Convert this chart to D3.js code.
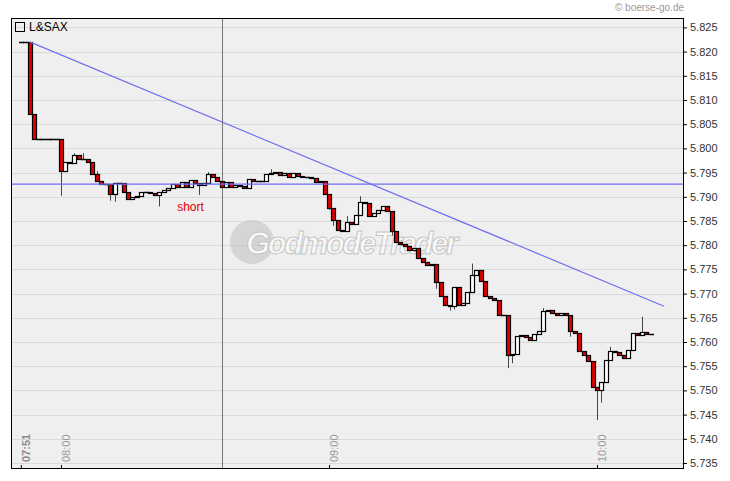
<!DOCTYPE html>
<html><head><meta charset="utf-8">
<script src="https://cdn.jsdelivr.net/npm/d3@7"></script>
<style>body{margin:0;background:#fff}svg{display:block}</style>
</head><body><svg id="c" width="730" height="481"></svg>
<script>
// minute closes from 07:51 (open = previous close)
const startMinute = 7*60+51;
const closes = [5.8220,5.8220,5.8071,5.8019,5.8019,5.8019,5.8019,5.8019,5.8019,5.7953,
5.7972,5.7970,5.7986,5.7978,5.7978,5.7972,5.7947,5.7933,5.7926,5.7926,
5.7906,5.7929,5.7929,5.7910,5.7895,5.7900,5.7902,5.7910,5.7910,5.7908,
5.7904,5.7910,5.7914,5.7918,5.7926,5.7920,5.7931,5.7920,5.7935,5.7929,
5.7924,5.7929,5.7947,5.7941,5.7933,5.7920,5.7931,5.7920,5.7924,5.7922,
5.7918,5.7937,5.7933,5.7933,5.7933,5.7947,5.7949,5.7951,5.7945,5.7949,
5.7941,5.7949,5.7943,5.7941,5.7941,5.7939,5.7931,5.7933,5.7906,5.7877,
5.7852,5.7831,5.7829,5.7848,5.7844,5.7862,5.7889,5.7887,5.7860,5.7867,
5.7873,5.7881,5.7871,5.7829,5.7807,5.7802,5.7798,5.7790,5.7794,5.7774,
5.7765,5.7759,5.7761,5.7724,5.7695,5.7676,5.7674,5.7714,5.7676,5.7681,
5.7703,5.7738,5.7749,5.7726,5.7695,5.7691,5.7687,5.7656,5.7656,5.7573,
5.7575,5.7612,5.7614,5.7610,5.7604,5.7617,5.7623,5.7664,5.7666,5.7660,
5.7656,5.7660,5.7656,5.7623,5.7619,5.7581,5.7573,5.7561,5.7507,5.7501,
5.7517,5.7563,5.7581,5.7579,5.7573,5.7567,5.7583,5.7619,5.7614,5.7621,
5.7617,5.7617];
const wickHighs = [[17,5.7953],[14,5.7990],[42,5.7951],[56,5.7957],[76,5.7901],[73,5.7860],[101,5.7762],[117,5.7670],[139,5.7652],[132,5.7590],[12,5.7990]];
const wickLows = [[9,5.7902],[20,5.7892],[21,5.7890],[40,5.7904],[69,5.7873],[70,5.7840],[83,5.7820],[84,5.7812],[93,5.7710],[96,5.7665],[97,5.7667],[109,5.7546],[110,5.7556],[123,5.7611],[125,5.7590],[129,5.7439],[130,5.7475],[136,5.7575],[31,5.7880]];
const yTicks = [5.735,5.740,5.745,5.750,5.755,5.760,5.765,5.770,5.775,5.780,5.785,5.790,5.795,5.800,5.805,5.810,5.815,5.820,5.825];
const xTickMinutes = [8*60,9*60,10*60];
const xTickLabels = ["08:00","09:00","10:00"];
const hLevel = 5.7926;
const trendLine = [[7*60+53,5.8220],[10*60+15,5.7674]];
const markerMinute = 8*60+36;
const shortNote = {minute:8*60+26, price:5.7878, text:"short"};

const svg = d3.select("#c");
const L=11,T=18,R=683,B=468;
const x = d3.scaleLinear().domain([startMinute, 10*60]).range([20.8, 597]);
const y = d3.scaleLinear().domain([5.735,5.825]).range([463,27.4]);

svg.append("rect").attr("x",L).attr("y",T).attr("width",R-L).attr("height",B-T).attr("fill","#efefef");
svg.append("g").selectAll("line").data(yTicks).join("line")
  .attr("x1",L).attr("x2",R).attr("y1",d=>Math.round(y(d))+.5).attr("y2",d=>Math.round(y(d))+.5)
  .attr("stroke","#dadada");

// watermark
const wm=svg.append("g").attr("opacity",0.6);
wm.append("circle").attr("cx",252).attr("cy",242).attr("r",22).attr("fill","#c4c4c4");
wm.append("text").attr("x",246).attr("y",254).text("GodmodeTrader")
  .attr("font-family","Liberation Sans Narrow, Liberation Sans").attr("font-style","italic").attr("font-weight","bold")
  .attr("font-size",31).attr("textLength",212).attr("fill","#fff").attr("stroke","#aaa").attr("stroke-width",1);

// vertical marker
svg.append("line").attr("x1",Math.round(x(markerMinute))+.5).attr("x2",Math.round(x(markerMinute))+.5)
  .attr("y1",T).attr("y2",B).attr("stroke","#777");

const yAxis = d3.axisRight(y).tickValues(yTicks).tickFormat(d3.format(".3f")).tickSize(4);
svg.append("g").attr("transform",`translate(${R},0)`).call(yAxis)
  .call(g=>g.select(".domain").remove())
  .call(g=>g.selectAll("text").attr("font-family","Liberation Sans Narrow, Liberation Sans").attr("font-size",11).attr("fill","#333"));

const xAxis = d3.axisBottom(x).tickValues([startMinute,...xTickMinutes]).tickSize(3).tickFormat(()=> "");
svg.append("g").attr("transform",`translate(0,${B-3})`).call(xAxis).call(g=>g.select(".domain").remove());
const lbls=[{m:startMinute,t:"07:51",b:true},...xTickMinutes.map((m,i)=>({m,t:xTickLabels[i],b:false}))];
svg.append("g").selectAll("text").data(lbls).join("text")
  .attr("transform",d=>`translate(${x(d.m)+9},${462}) rotate(-90)`)
  .text(d=>d.t).attr("font-family","Liberation Sans").attr("font-size",11)
  .attr("font-weight",d=>d.b?"bold":"normal").attr("fill",d=>d.b?"#888":"#999");

// candles
const hi=new Map(wickHighs), lo=new Map(wickLows);
const candles = closes.map((c,i)=>({i,o:i?closes[i-1]:c,c}));
const g=svg.append("g");
candles.forEach(d=>{
  const cx=x(startMinute+d.i);
  const top=Math.max(d.o,d.c), bot=Math.min(d.o,d.c);
  if(hi.has(d.i)) g.append("line").attr("x1",Math.round(cx)+.5).attr("x2",Math.round(cx)+.5).attr("y1",y(hi.get(d.i))).attr("y2",y(top)).attr("stroke","#444");
  if(lo.has(d.i)) g.append("line").attr("x1",Math.round(cx)+.5).attr("x2",Math.round(cx)+.5).attr("y1",y(bot)).attr("y2",y(lo.get(d.i))).attr("stroke","#444");
});
candles.forEach(d=>{
  const cx=x(startMinute+d.i);
  const top=Math.max(d.o,d.c), bot=Math.min(d.o,d.c);
  const h=Math.round(y(bot)-y(top));
  if(h<1){
    g.append("line").attr("x1",Math.round(cx-2)).attr("x2",Math.round(cx+3)).attr("y1",Math.round(y(top))+.5).attr("y2",Math.round(y(top))+.5)
      .attr("stroke","#000").attr("stroke-width",1.5);
  } else {
    g.append("rect").attr("x",Math.round(cx-2)+.5).attr("y",Math.round(y(top))+.5)
      .attr("width",4).attr("height",h)
      .attr("fill",d.c<d.o?"#e00000":"#fff").attr("stroke","#000").attr("stroke-width",1.2);
  }
});

// lines
svg.append("line").attr("x1",L).attr("x2",R).attr("y1",y(hLevel)).attr("y2",y(hLevel)).attr("stroke","#6f6ff5").attr("stroke-width",1.2);
svg.append("line").attr("x1",x(trendLine[0][0])).attr("y1",y(trendLine[0][1]))
  .attr("x2",x(trendLine[1][0])).attr("y2",y(trendLine[1][1])).attr("stroke","#6f6ff5").attr("stroke-width",1.2);
svg.append("text").attr("x",x(shortNote.minute)).attr("y",y(shortNote.price)+4).text(shortNote.text)
  .attr("font-family","Liberation Sans").attr("font-size",12).attr("fill","#e00000");

svg.append("rect").attr("x",L+.5).attr("y",T+.5).attr("width",R-L).attr("height",B-T).attr("fill","none").attr("stroke","#000");
svg.append("rect").attr("x",15.5).attr("y",22.5).attr("width",9).attr("height",9).attr("fill","none").attr("stroke","#000");
svg.append("text").attr("x",29).attr("y",31).text("L&SAX").attr("font-family","Liberation Sans").attr("font-size",12).attr("fill","#000");
svg.append("text").attr("x",684).attr("y",11).attr("text-anchor","end").text("© boerse-go.de")
  .attr("font-family","Liberation Sans").attr("font-size",10).attr("fill","#999");
</script></body></html>
